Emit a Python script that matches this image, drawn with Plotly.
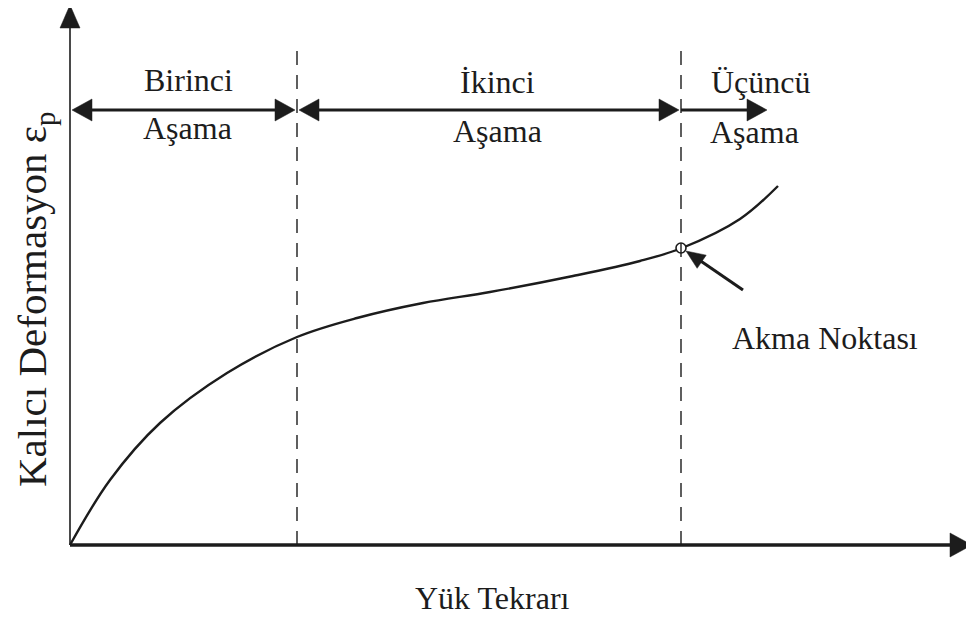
import plotly.graph_objects as go
import math

# ---- data (diagram units) ----
curve_x = [0, 40, 90, 157, 227, 287, 353, 420, 503, 570, 612, 670, 708]
curve_y = [0, 65, 122, 172, 208, 227, 242, 253, 269, 284, 297, 326, 359]

stage_bounds = [0, 227, 611]       # y-axis, first dashed line, second dashed line
stage3_end = 697                   # end of third-stage arrow
stage_arrow_y = 435
dashed_top = 495
axis_x_end = 902
axis_y_end = 540
yield_point = (611, 297)
yield_arrow_tail = (673, 255)

stage_titles = ["Birinci", "İkinci", "Üçüncü"]
stage_sub = "Aşama"
x_title = "Yük Tekrarı"
y_title = "Kalıcı Deformasyon ε<sub>p</sub>"
yield_label = "Akma Noktası"

FONT = "Liberation Serif"
INK = "#1c1c1c"

fig = go.Figure()

# curve
fig.add_trace(go.Scatter(x=curve_x, y=curve_y, mode="lines",
                         line=dict(color=INK, width=2.4, shape="spline", smoothing=1.0),
                         hoverinfo="skip"))

shapes = []

def tri(tip, direction, length, half):
    dx, dy = direction
    n = math.hypot(dx, dy)
    ux, uy = dx / n, dy / n
    bx, by = tip[0] - ux * length, tip[1] - uy * length
    px, py = -uy, ux
    return dict(type="path", xref="x", yref="y",
                path=f"M{tip[0]},{tip[1]} L{bx + px*half},{by + py*half} L{bx - px*half},{by - py*half} Z",
                fillcolor=INK, line=dict(color=INK, width=0.5))

def seg(x0, y0, x1, y1, w, dash="solid"):
    return dict(type="line", xref="x", yref="y", x0=x0, y0=y0, x1=x1, y1=y1,
                line=dict(color=INK, width=w, dash=dash))

# axes
shapes.append(seg(0, 0, axis_x_end - 15, 0, 3.5))
shapes.append(tri((axis_x_end, 0), (1, 0), 22, 12))
shapes.append(seg(0, 0, 0, axis_y_end - 15, 1.6))
shapes.append(tri((0, axis_y_end), (0, 1), 23, 10))

# dashed boundaries
for bx in stage_bounds[1:]:
    shapes.append(seg(bx, 0, bx, dashed_top, 1.4, dash="14px,10px"))

# stage arrows
g = 2
spans = [(stage_bounds[0], stage_bounds[1]), (stage_bounds[1], stage_bounds[2])]
for a, b in spans:
    shapes.append(seg(a + g + 10, stage_arrow_y, b - g - 10, stage_arrow_y, 3))
    shapes.append(tri((a + g, stage_arrow_y), (-1, 0), 20, 11))
    shapes.append(tri((b - g, stage_arrow_y), (1, 0), 20, 11))
shapes.append(seg(stage_bounds[2], stage_arrow_y, stage3_end - 10, stage_arrow_y, 3))
shapes.append(tri((stage3_end, stage_arrow_y), (1, 0), 20, 11))

# yield arrow
tip = (yield_point[0] + 5, yield_point[1] - 3)
dxy = (tip[0] - yield_arrow_tail[0], tip[1] - yield_arrow_tail[1])
shapes.append(seg(yield_arrow_tail[0], yield_arrow_tail[1],
                  tip[0] - dxy[0] * 0.2, tip[1] - dxy[1] * 0.2, 3))
shapes.append(tri(tip, dxy, 19, 8))

fig.update_layout(shapes=shapes)

# yield point circle
fig.add_trace(go.Scatter(x=[yield_point[0]], y=[yield_point[1]], mode="markers",
                         marker=dict(symbol="circle", size=10, color="white",
                                     line=dict(color=INK, width=1.6)),
                         hoverinfo="skip"))

ann = []
def txt(x, y, s, size=32, xanchor="center", angle=0):
    ann.append(dict(x=x, y=y, xref="x", yref="y", text=s, showarrow=False,
                    xanchor=xanchor, yanchor="middle", textangle=angle,
                    font=dict(family=FONT, size=size, color=INK)))

title_pos = [(118, 465, "center"), (427, 463, "center"), (639, 463, "left")]
sub_pos = [(117, 417, "center"), (427, 414, "center"), (638, 413, "left")]
for t, (x, y, a) in zip(stage_titles, title_pos):
    txt(x, y, t, xanchor=a)
for (x, y, a) in sub_pos:
    txt(x, y, stage_sub, xanchor=a)

txt(755, 207, yield_label)
txt(422, -53, x_title)
txt(-35, 245, y_title, size=41, angle=-90)

fig.update_layout(annotations=ann)

# page body has an 8px margin: size and ranges compensate so marks land where the reference has them
fig.update_layout(
    width=966, height=613, margin=dict(l=0, r=0, t=0, b=0),
    paper_bgcolor="white", plot_bgcolor="white", showlegend=False,
    xaxis=dict(range=[-62, 904], visible=False, fixedrange=True),
    yaxis=dict(range=[-76, 537], visible=False, fixedrange=True),
)

fig.write_html("out.html")
